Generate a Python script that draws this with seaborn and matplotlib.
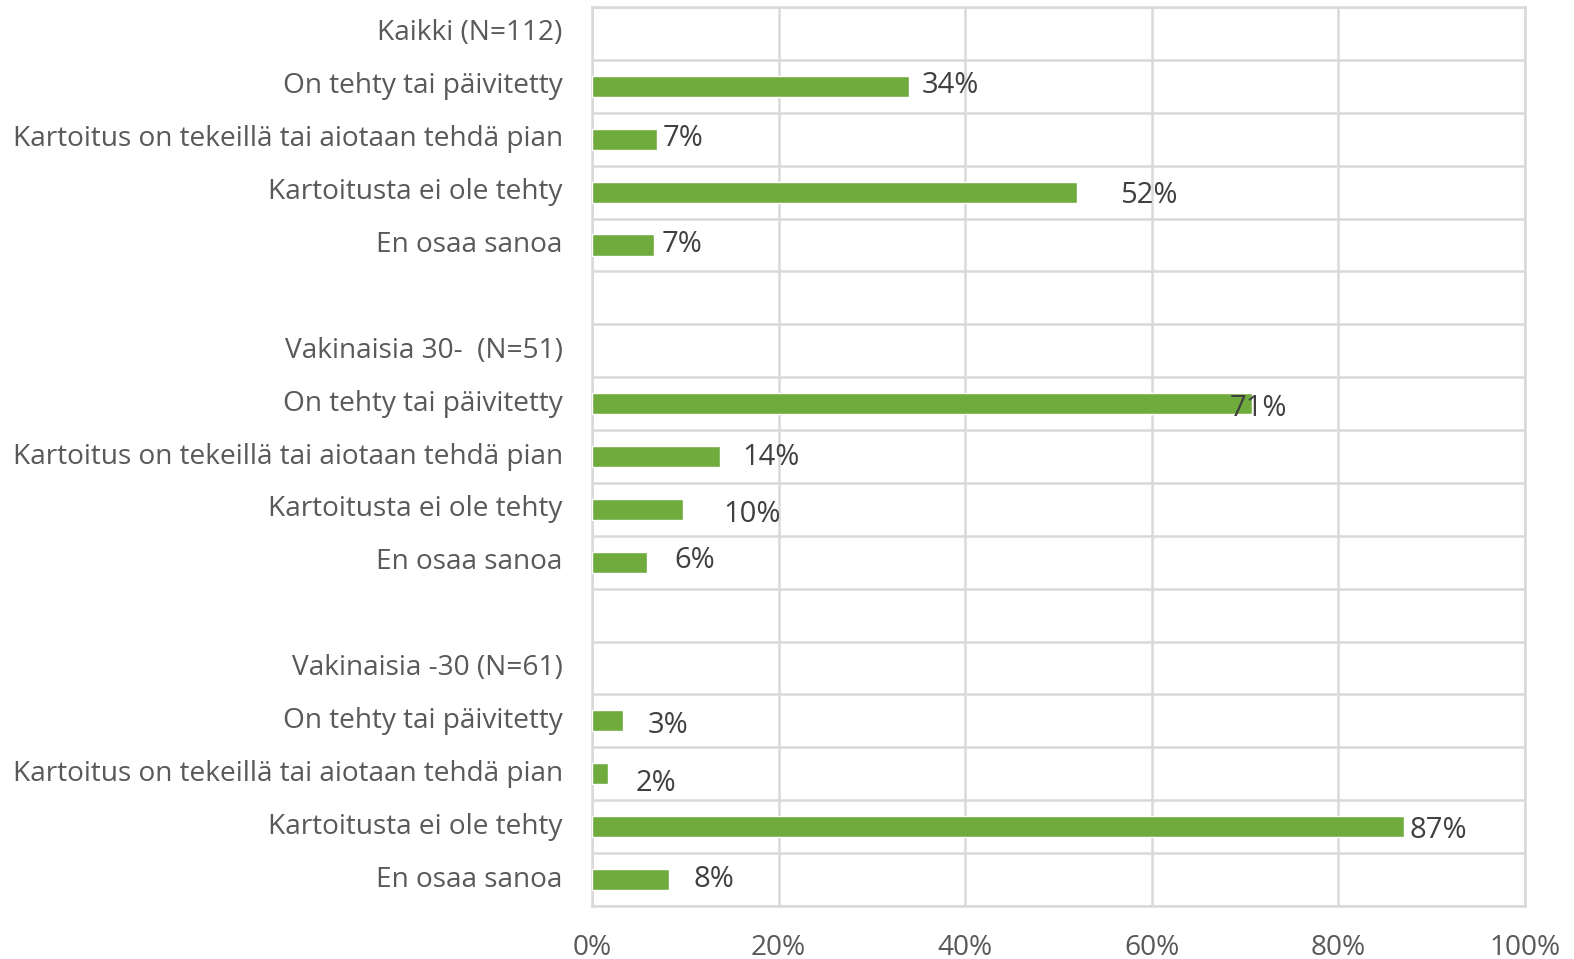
import matplotlib
matplotlib.use("Agg")
import matplotlib.pyplot as plt
import seaborn as sns
import pandas as pd
import numpy as np

# ---- data ----
row_labels = [
    "Kaikki (N=112)",
    "On tehty tai päivitetty",
    "Kartoitus on tekeillä tai aiotaan tehdä pian",
    "Kartoitusta ei ole tehty",
    "En osaa sanoa",
    "",
    "Vakinaisia 30-  (N=51)",
    "On tehty tai päivitetty",
    "Kartoitus on tekeillä tai aiotaan tehdä pian",
    "Kartoitusta ei ole tehty",
    "En osaa sanoa",
    "",
    "Vakinaisia -30 (N=61)",
    "On tehty tai päivitetty",
    "Kartoitus on tekeillä tai aiotaan tehdä pian",
    "Kartoitusta ei ole tehty",
    "En osaa sanoa",
]
values = [np.nan, 34, 7, 52, 6.6, np.nan,
          np.nan, 70.7, 13.7, 9.8, 5.9, np.nan,
          np.nan, 3.3, 1.7, 87, 8.2]
value_labels = ["", "34%", "7%", "52%", "7%", "",
                "", "71%", "14%", "10%", "6%", "",
                "", "3%", "2%", "87%", "8%"]
# manual label offsets (points) as placed in the original
label_dx = [0, 5, 0, 27, 2, 0, 0, -20, 12, 25, 16, 0, 0, 14, 16, 0, 14]
label_dy = [0, 0.5, 0.5, -2.5, 0, 0, 0, -3.5, -1, -3.5, 1.5, 0, 0, -3.5, -7, -3, 0]
xticks = [0, 20, 40, 60, 80, 100]
xtick_labels = ["0%", "20%", "40%", "60%", "80%", "100%"]

# ---- plot ----
sns.set_theme(style="white")
plt.rcParams["font.family"] = ["Open Sans", "DejaVu Sans"]

keys = [f"r{i}" for i in range(len(row_labels))]
df = pd.DataFrame({"key": keys, "value": values})

fig = plt.figure(figsize=(15.74, 9.59), dpi=100)
ax = fig.add_axes([592 / 1574, 1 - 906 / 959, 933 / 1574, 899 / 959])

sns.barplot(data=df.dropna(), x="value", y="key", order=keys, orient="h",
            color="#70AB3E", saturation=1, width=0.4, ax=ax, zorder=3)

ax.set_xlim(0, 100)
ax.set_ylim(len(keys) - 0.5, -0.5)
ax.set_xticks(xticks)
ax.set_xticklabels(xtick_labels)
ax.set_yticks(range(len(keys)))
ax.set_yticklabels(row_labels)
for t in ax.get_yticklabels():
    t.set_va("center")
ax.set_xlabel("")
ax.set_ylabel("")
ax.tick_params(axis="both", length=0, labelsize=20.2, labelcolor="#595959")
ax.tick_params(axis="y", pad=21)
ax.tick_params(axis="x", pad=20)

ax.set_yticks(np.arange(-0.5, len(keys), 1), minor=True)
ax.grid(which="minor", axis="y", color="#D9D9D9", linewidth=1.8, zorder=0)
ax.grid(which="major", axis="x", color="#D9D9D9", linewidth=1.8, zorder=0)
ax.grid(which="major", axis="y", visible=False)
ax.tick_params(which="minor", length=0)
for s in ax.spines.values():
    s.set_visible(True)
    s.set_color("#D9D9D9")
    s.set_linewidth(1.8)

for i, (v, lab) in enumerate(zip(values, value_labels)):
    if lab:
        ax.annotate(lab, xy=(v, i), xytext=(label_dx[i] + 4, label_dy[i]),
                    textcoords="offset points", ha="left", va="center",
                    fontsize=21, color="#404040", zorder=4)

fig.savefig("out.png", dpi=100)
